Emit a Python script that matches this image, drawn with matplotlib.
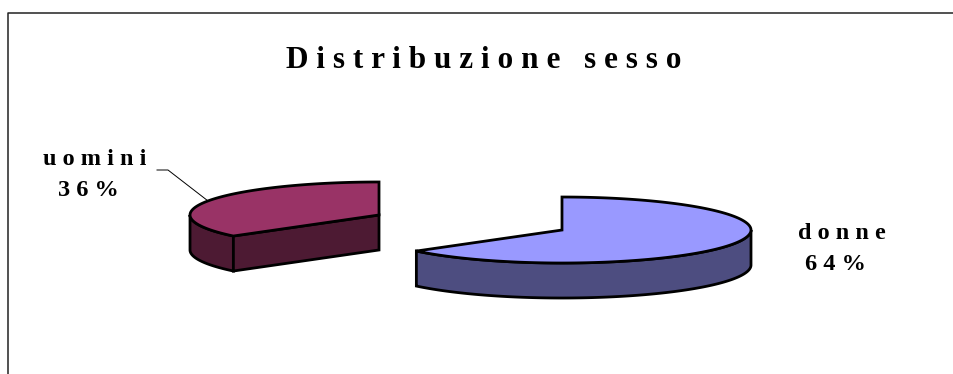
import numpy as np
import matplotlib
matplotlib.use("Agg")
import matplotlib.pyplot as plt
from matplotlib.lines import Line2D
from matplotlib.patches import Polygon

plt.rcParams['font.family'] = ['Liberation Serif', 'DejaVu Serif']

categorie = ["donne", "uomini"]
percentuali = [64, 36]
etichette = ["d o n n e\n6 4 %  ", "u o m i n i\n3 6 %  "]
colori_top = ["#9999FF", "#993366"]
colori_lato = ["#4D4D80", "#4D1A33"]
titolo = "D i s t r i b u z i o n e   s e s s o"

# proiezione della torta 3D: raggio 1 in orizzontale
tilt = 33 / 189
spessore = 35 / 189
esplosione = 0.535
W, H = 954, 374
cx_px, cy_px, r_px = 470.5, 222.5, 189


def arco(cx, cy, a0, a1, n=200):
    # angoli in gradi, in senso orario partendo da ore 12
    t = np.radians(np.linspace(a0, a1, n))
    return np.column_stack((cx + np.sin(t), cy + tilt * np.cos(t)))


def lato(arc, colore):
    giu = arc - [0, spessore]
    pts = np.vstack((arc, giu[::-1]))
    ax.add_patch(Polygon(pts, closed=True, fc=colore, ec="black", lw=2, joinstyle="miter"))


fig = plt.figure(figsize=(W / 100, H / 100), dpi=100)
ax = fig.add_axes([0, 0, 1, 1])
ax.set_xlim(-cx_px / r_px, (W - cx_px) / r_px)
ax.set_ylim(-(H - cy_px) / r_px, cy_px / r_px)
ax.axis("off")

start = 0
centri = []
for i in range(len(percentuali)):
    ampiezza = percentuali[i] / sum(percentuali) * 360
    end = start + ampiezza
    mid = np.radians((start + end) / 2)
    cx = esplosione * np.sin(mid)
    cy = esplosione * tilt * np.cos(mid)
    centri.append((cx, cy, start, end, mid))

    # parte visibile del bordo esterno, davanti
    a0, a1 = max(start, 90), min(end, 270)
    if a1 > a0:
        lato(arco(cx, cy, a0, a1), colori_lato[i])
    # faccia del taglio rivolta verso chi guarda
    if np.cos(np.radians(start)) < 0 and np.sin(np.radians(start)) < 0:
        punta = arco(cx, cy, start, start, 1)
        lato(np.vstack((punta, [[cx, cy]])), colori_lato[i])

    pts = np.vstack(([[cx, cy]], arco(cx, cy, start, end)))
    ax.add_patch(Polygon(pts, closed=True, fc=colori_top[i], ec="black", lw=2, joinstyle="miter"))
    start = end

# linea guida dell'etichetta uomini
cx, cy, _, _, mid = centri[1]
bordo = (cx + np.sin(mid), cy + tilt * np.cos(mid))
gomito = ((168 - cx_px) / r_px, (cy_px - 170) / r_px)
attacco = ((157 - cx_px) / r_px, (cy_px - 170) / r_px)
ax.plot([attacco[0], gomito[0], bordo[0]], [attacco[1], gomito[1], bordo[1]], color="black", lw=0.7)

# cornice del grafico, aperta a destra e in basso
fig.add_artist(Line2D([8.5 / W, 8.5 / W, 1], [0, 1 - 12.5 / H, 1 - 12.5 / H], color="#222222", lw=1.1))

fig.text(484 / W, 1 - 60 / H, titolo, ha="center", va="center", fontsize=22.5, fontweight="bold")
fig.text(842 / W, 1 - 249 / H, etichette[0], ha="center", va="center", fontsize=17.5, fontweight="bold", linespacing=1.65)
fig.text(95 / W, 1 - 175 / H, etichette[1], ha="center", va="center", fontsize=17.5, fontweight="bold", linespacing=1.65)

fig.savefig("out.png", dpi=100)
